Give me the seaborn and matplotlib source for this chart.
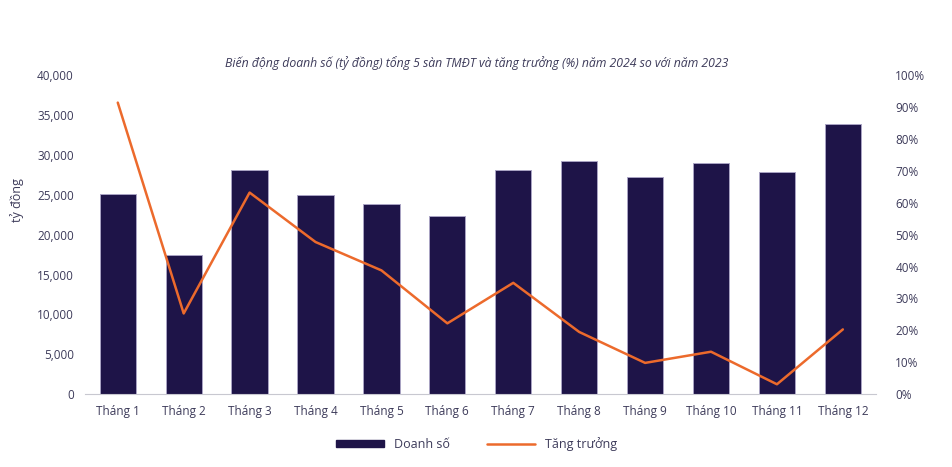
import matplotlib.pyplot as plt
import matplotlib.ticker as mticker
from matplotlib.patches import Patch
from matplotlib.lines import Line2D
import seaborn as sns
import numpy as np
import pandas as pd

months = ["Tháng 1", "Tháng 2", "Tháng 3", "Tháng 4", "Tháng 5", "Tháng 6",
          "Tháng 7", "Tháng 8", "Tháng 9", "Tháng 10", "Tháng 11", "Tháng 12"]
doanh_so = [25100, 17500, 28100, 25000, 23900, 22400,
            28050, 29200, 27200, 29050, 27800, 33900]
tang_truong = [91.4, 25.3, 63.2, 47.7, 38.8, 22.2,
               34.9, 19.5, 9.8, 13.3, 3.1, 20.3]

bar_color = '#1e1448'
line_color = '#ec6a2c'
text_color = '#3d3b5a'

sns.set_theme(style='white')
plt.rcParams['font.family'] = ['Open Sans', 'DejaVu Sans']

df = pd.DataFrame({'month': months, 'sales': doanh_so, 'growth': tang_truong})

fig = plt.figure(figsize=(9.53, 4.67), dpi=100)
ax = fig.add_axes([0.089, 0.156, 0.830, 0.683])

sns.barplot(data=df, x='month', y='sales', color=bar_color, width=0.55,
            edgecolor='#a9a3c4', linewidth=0.7, saturation=1, ax=ax)
ax.set_ylim(0, 40000)
ax.set_xlim(-0.5, 11.5)
ax.yaxis.set_major_locator(mticker.MultipleLocator(5000))
ax.yaxis.set_major_formatter(mticker.FuncFormatter(lambda v, p: f'{int(v):,}'))
ax.set_xlabel('')
ax.tick_params(axis='both', labelsize=8.5, colors=text_color, length=0)
ax.tick_params(axis='x', pad=8)
ax.tick_params(axis='y', pad=8)
ax.set_ylabel('tỷ đồng', fontsize=9, color=text_color)
ax.yaxis.set_label_coords(-0.077, 0.61)
for s in ['top', 'right', 'left']:
    ax.spines[s].set_visible(False)
ax.spines['bottom'].set_color('#c8c8d0')
ax.spines['bottom'].set_linewidth(0.8)

ax2 = ax.twinx()
sns.lineplot(x=np.arange(len(months)), y=tang_truong, color=line_color,
             linewidth=1.8, ax=ax2)
ax2.set_ylim(0, 100)
ax2.yaxis.set_major_locator(mticker.MultipleLocator(10))
ax2.yaxis.set_major_formatter(mticker.FuncFormatter(lambda v, p: f'{int(v)}%'))
ax2.tick_params(axis='y', labelsize=8.5, colors=text_color, length=0, pad=14)
for s in ['top', 'right', 'left', 'bottom']:
    ax2.spines[s].set_visible(False)

fig.text(0.5, 0.865, 'Biến động doanh số (tỷ đồng) tổng 5 sàn TMĐT và tăng trưởng (%) năm 2024 so với năm 2023',
         ha='center', va='center', fontsize=8.8, style='italic', color=text_color)

handles = [Patch(facecolor=bar_color, edgecolor=bar_color, label='Doanh số'),
           Line2D([0], [0], color=line_color, linewidth=1.8, label='Tăng trưởng')]
fig.legend(handles=handles, loc='center', bbox_to_anchor=(0.5, 0.05), ncol=2,
           frameon=False, fontsize=9, labelcolor=text_color, handlelength=3.8,
           handleheight=0.5, columnspacing=3)

fig.savefig('out.png', dpi=100)
